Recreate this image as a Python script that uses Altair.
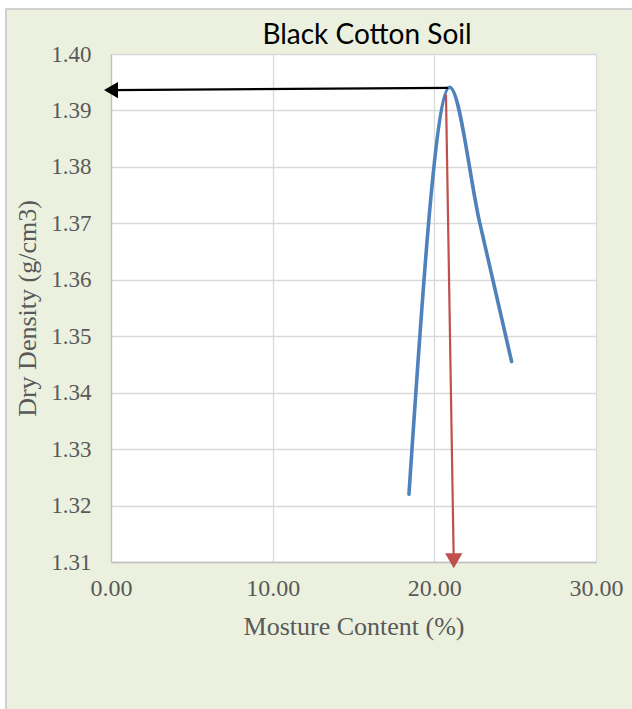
import altair as alt
import pandas as pd

# Compaction test: moisture content (%) vs dry density (g/cm3)
moisture = [18.43, 20.95, 22.80, 24.78]
density = [1.3220, 1.3941, 1.3702, 1.3455]

x_ticks = [0, 10, 20, 30]
y_ticks = [1.31, 1.32, 1.33, 1.34, 1.35, 1.36, 1.37, 1.38, 1.39, 1.40]

# Guide arrows: max dry density read across to the y axis,
# optimum moisture content read down to the x axis
mdd_x = [20.85, 0.0]
mdd_y = [1.3940, 1.3936]
omc_x = [20.72, 21.2]
omc_y = [1.3928, 1.3102]

chart_title = ["Black Cotton Soil"]

BG = "#EBF1DE"
LABEL = "#595959"
SERIF = "Liberation Serif"

curve_df = pd.DataFrame({"moisture": moisture, "density": density})
mdd_df = pd.DataFrame({"x": [mdd_x[0]], "x2": [mdd_x[1]], "y": [mdd_y[0]], "y2": [mdd_y[1]]})
omc_df = pd.DataFrame({"x": [omc_x[0]], "x2": [omc_x[1]], "y": [omc_y[0]], "y2": [omc_y[1]]})
title_df = pd.DataFrame({"text": chart_title})

x_scale = alt.Scale(domain=[0, 30], nice=False, zero=False)
y_scale = alt.Scale(domain=[1.31, 1.40], nice=False, zero=False)

x_axis = alt.Axis(
    values=x_ticks, format=".2f", title="Mosture Content (%)",
    labelFont=SERIF, labelFontSize=24, labelColor=LABEL, labelPadding=26,
    labelBaseline="middle", labelFlush=False, ticks=False, tickSize=0,
    domainColor="#BFBFBF", domainWidth=1.3,
    gridColor="#D9D9D9", gridWidth=1.3,
    titleFont=SERIF, titleFontSize=26, titleFontWeight="normal",
    titleColor=LABEL, titlePadding=13,
)
y_axis = alt.Axis(
    values=y_ticks, format=".2f", title="Dry Density (g/cm3)",
    labelFont=SERIF, labelFontSize=23, labelColor=LABEL, labelPadding=20,
    labelBaseline="middle", labelFlush=False, ticks=False, tickSize=0,
    domainColor="#BFBFBF", domainWidth=1.3,
    gridColor="#D9D9D9", gridWidth=1.3,
    titleFont=SERIF, titleFontSize=26, titleFontWeight="normal",
    titleColor=LABEL, titlePadding=10,
)

# White margin strips and thin frame around the chart area
strip_left = alt.Chart(curve_df).mark_rect(color="white", clip=False).encode(
    x=alt.value(-111), x2=alt.value(-105), y=alt.value(-54), y2=alt.value(660)
)
strip_top = alt.Chart(curve_df).mark_rect(color="white", clip=False).encode(
    x=alt.value(-111), x2=alt.value(530), y=alt.value(-54), y2=alt.value(-45)
)
frame = alt.Chart(curve_df).mark_rect(
    filled=False, stroke="#D0D0D0", strokeWidth=1.2, clip=False
).encode(
    x=alt.value(-105), x2=alt.value(540), y=alt.value(-45), y2=alt.value(670)
)

title = alt.Chart(title_df).mark_text(
    font="Lato", fontSize=28, color="black", align="center",
    baseline="alphabetic", clip=False
).encode(text="text:N", x=alt.value(256), y=alt.value(-10))

curve = alt.Chart(curve_df).mark_line(
    interpolate="monotone", color="#4F81BD", strokeWidth=3.6, strokeCap="round"
).encode(
    x=alt.X("moisture:Q", scale=x_scale, axis=x_axis),
    y=alt.Y("density:Q", scale=y_scale, axis=y_axis),
)

mdd_rule = alt.Chart(mdd_df).mark_rule(color="black", strokeWidth=2.4).encode(
    x="x:Q", x2="x2:Q", y="y:Q", y2="y2:Q"
)
mdd_head = alt.Chart(mdd_df).mark_point(
    shape="triangle-left", filled=True, color="black", size=260, opacity=1, clip=False
).encode(x="x2:Q", y="y2:Q")

omc_rule = alt.Chart(omc_df).mark_rule(color="#C0504D", strokeWidth=2.2, clip=False).encode(
    x="x:Q", x2="x2:Q", y="y:Q", y2="y2:Q"
)
omc_head = alt.Chart(omc_df).mark_point(
    shape="triangle-down", filled=True, color="#C0504D", size=300, opacity=1, clip=False
).encode(x="x2:Q", y="y2:Q")

chart = alt.layer(
    strip_left, strip_top, frame, title, curve, omc_rule, omc_head, mdd_rule, mdd_head
).properties(
    width=485,
    height=508,
    padding={"left": 111, "top": 54, "right": 36, "bottom": 147},
    autosize="none",
    background=BG,
).configure_view(fill="white", stroke=None)

chart.save("out.html", embed_options={"renderer": "svg", "actions": False})
